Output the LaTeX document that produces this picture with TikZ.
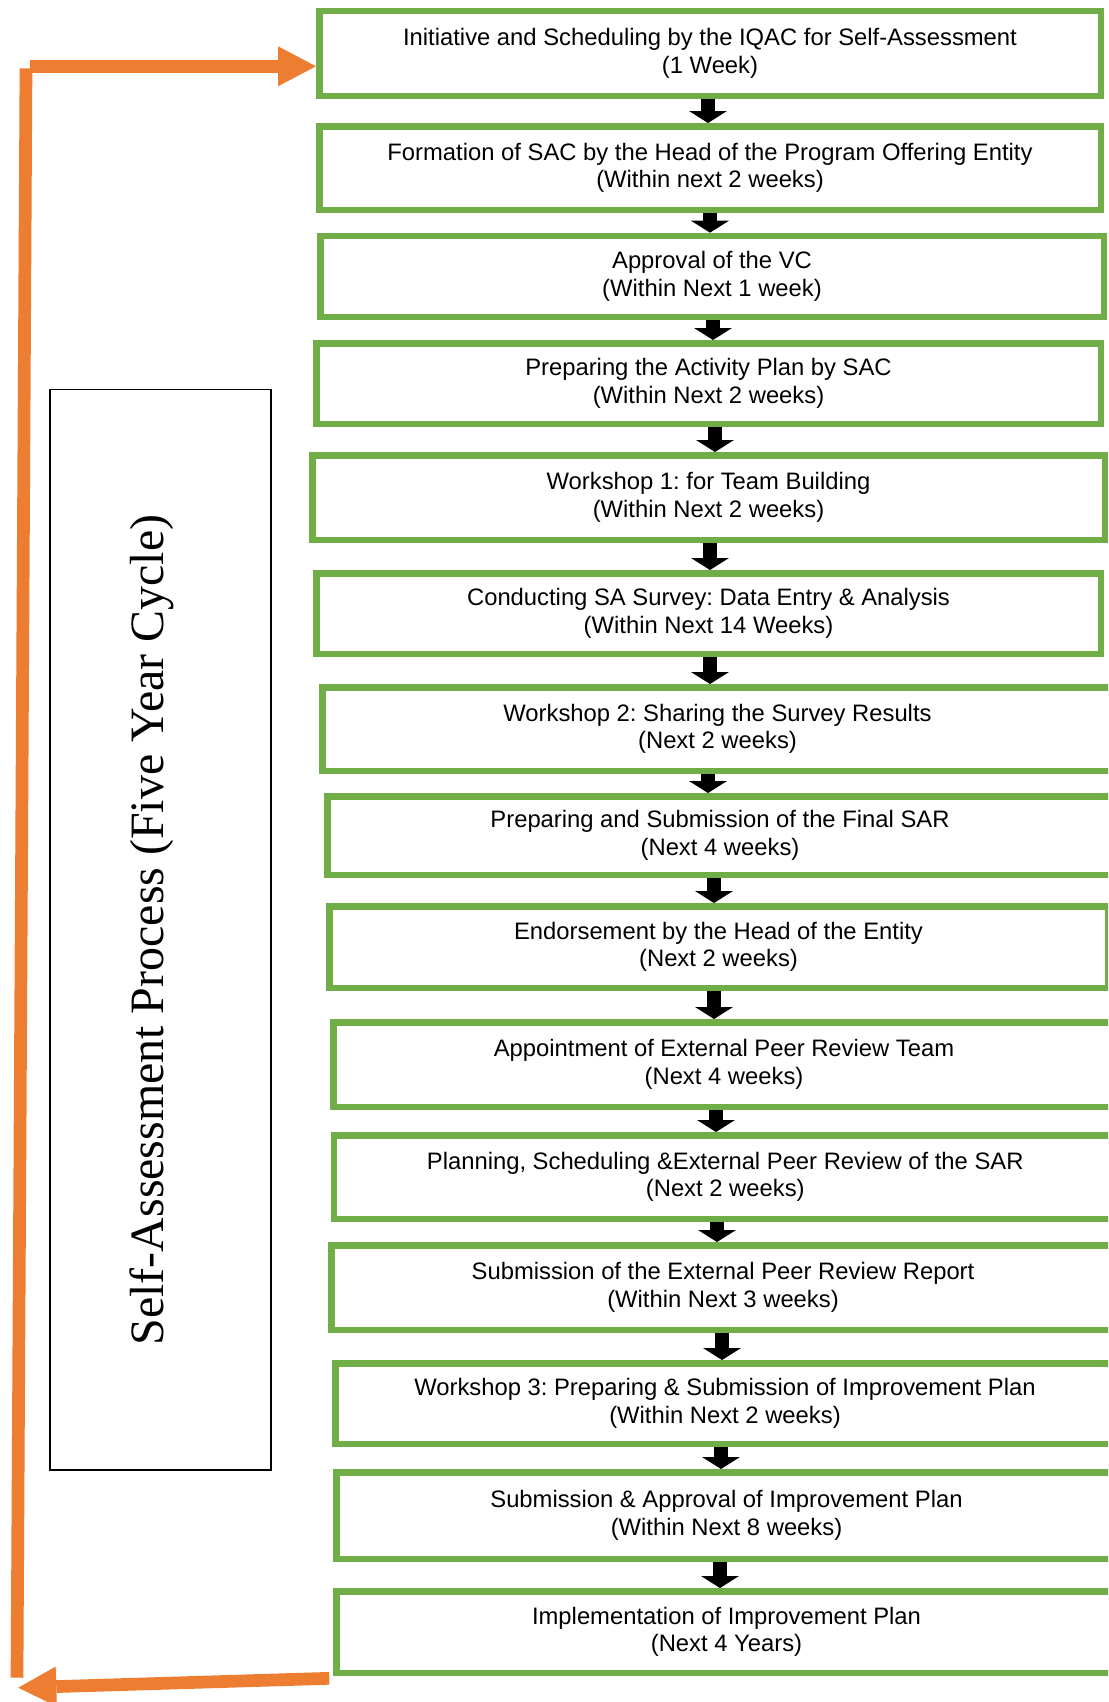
\documentclass[tikz,border=0pt]{standalone}
\usepackage{fontspec}
\setmainfont{Liberation Sans}
\newfontfamily\serifface{Liberation Serif}
\usetikzlibrary{arrows.meta}
\definecolor{boxgreen}{HTML}{70AD47}
\definecolor{looporange}{HTML}{ED7D31}
\frenchspacing
\newcommand\stagebox[6]{%
  \pgfmathsetmacro\sbw{#4-#2-6.5}%
  \pgfmathsetmacro\sbh{#5-#3-6.5}%
  \pgfmathsetmacro\sbx{(#2+#4)/2}%
  \pgfmathsetmacro\sby{-(#3+#5)/2-1}%
  \node[stage, minimum width=\sbw pt, minimum height=\sbh pt] (#1) at (\sbx,\sby) {#6};}
\begin{document}
\frenchspacing
\begin{tikzpicture}[x=1pt,y=1pt,
  stage/.style={draw=boxgreen, line width=6.5pt, fill=white, inner sep=0pt, outer sep=3.25pt,
    align=center, font=\fontsize{23.8}{27.4}\selectfont},
  flowarrow/.style={draw=black, line width=14pt, -{Triangle[width=38pt,length=12pt,line width=0pt]}},
  looparrow/.style={draw=looporange, line width=12.7pt, -{Triangle[width=40pt,length=38pt,line width=0pt]}},
  cyclebox/.style={draw=black, line width=1.7pt, inner sep=0pt, outer sep=0pt},
  cyclelabel/.style={rotate=90, anchor=base, inner sep=0pt, font=\serifface\fontsize{47.9}{57}\selectfont}
]
\useasboundingbox (0,0) rectangle (1108,-1702);
\clip (0,0) rectangle (1108,-1702);
\fill[white] (0,0) rectangle (1108,-1702);

% stages
\stagebox{b1}{316}{6.7}{1104}{98}{Initiative and Scheduling by the IQAC for Self-Assessment\\(1 Week)}
\stagebox{b2}{316}{122}{1104}{212}{Formation of SAC by the Head of the Program Offering Entity\\(Within next 2 weeks)}
\stagebox{b3}{317}{231.7}{1107}{319}{Approval of the VC\\(Within Next 1 week)}
\stagebox{b4}{313}{339}{1104}{426}{Preparing the Activity Plan by SAC\\(Within Next 2 weeks)}
\stagebox{b5}{309}{451}{1108}{542}{Workshop 1: for Team Building\\(Within Next 2 weeks)}
\stagebox{b6}{313}{569}{1104}{656}{Conducting SA Survey: Data Entry \& Analysis\\(Within Next 14 Weeks)}
\stagebox{b7}{319}{683}{1116}{773}{Workshop 2: Sharing the Survey Results\\(Next 2 weeks)}
\stagebox{b8}{324}{792}{1116}{877}{Preparing and Submission of the Final SAR\\(Next 4 weeks)}
\stagebox{b9}{326}{902}{1111}{990}{Endorsement by the Head of the Entity\\(Next 2 weeks)}
\stagebox{b10}{330}{1018}{1118}{1109}{Appointment of External Peer Review Team\\(Next 4 weeks)}
\stagebox{b11}{330.5}{1131}{1120}{1221}{Planning, Scheduling \&External Peer Review of the SAR\\(Next 2 weeks)}
\stagebox{b12}{328}{1241}{1118}{1332}{Submission of the External Peer Review Report\\(Within Next 3 weeks)}
\stagebox{b13}{332}{1359}{1118}{1446}{Workshop 3: Preparing \& Submission of Improvement Plan\\(Within Next 2 weeks)}
\stagebox{b14}{333}{1468}{1120}{1561}{Submission \& Approval of Improvement Plan\\(Within Next 8 weeks)}
\stagebox{b15}{333}{1587}{1120}{1675}{Implementation of Improvement Plan\\(Next 4 Years)}

% arrow columns
\coordinate (ax1) at (708,0);
\coordinate (ax2) at (710,0);
\coordinate (ax3) at (713,0);
\coordinate (ax4) at (715,0);
\coordinate (ax5) at (710,0);
\coordinate (ax6) at (710,0);
\coordinate (ax7) at (708,0);
\coordinate (ax8) at (714,0);
\coordinate (ax9) at (714,0);
\coordinate (ax10) at (716,0);
\coordinate (ax11) at (717,0);
\coordinate (ax12) at (722,0);
\coordinate (ax13) at (721,0);
\coordinate (ax14) at (720,0);
\foreach \i [evaluate=\i as \j using int(\i+1)] in {1,...,14}{
  \draw[flowarrow] (b\i.south -| ax\i) -- (b\j.north -| ax\i);
}

% cycle label box
\node[cyclebox, minimum width=221.3pt, minimum height=1080.6pt] (cycle) at (160.5,-929.85) {};
\node[cyclelabel] (cycletext) at (163,-930) {Self-Assessment Process (Five Year Cycle)};

% orange loop
\coordinate (loopTop) at (26,-68.3);
\coordinate (loopBottom) at (17,-1677.7);
\coordinate (topStart) at (29.7,-66.3);
\coordinate (botStart) at (329.3,-1678.3);
\coordinate (botTip) at (18.3,-1687.7);
\draw[draw=looporange, line width=12.7pt] (loopBottom) -- (loopTop);
\draw[looparrow] (topStart) -- (b1.west |- topStart);
\draw[looparrow] (botStart) -- (botTip);
\end{tikzpicture}
\end{document}
